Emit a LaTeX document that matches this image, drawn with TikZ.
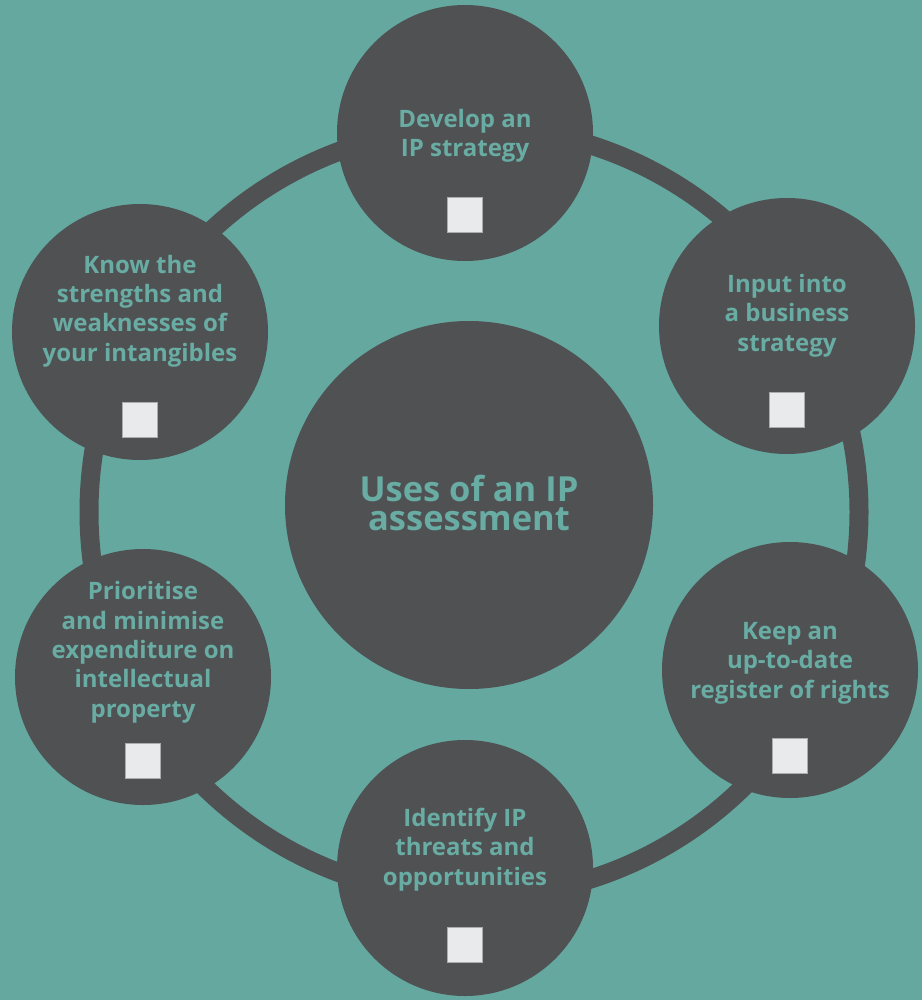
\documentclass[tikz,border=0pt]{standalone}
\usepackage{fontspec}
\setmainfont{Open Sans}
\definecolor{bgteal}{RGB}{100,168,160}
\definecolor{discgray}{RGB}{80,81,83}
\definecolor{txtteal}{RGB}{104,172,163}
\definecolor{sqfill}{RGB}{233,234,236}
\definecolor{sqline}{RGB}{172,172,175}
\begin{document}
\begin{tikzpicture}[x=1pt,y=-1pt,
  ringline/.style={draw=discgray, line width=19pt},
  disc/.style={circle, fill=discgray, draw=none, minimum size=256pt, inner sep=0pt},
  hub/.style={circle, fill=discgray, draw=none, minimum size=368pt, inner sep=0pt},
  lbl/.style={text=txtteal, font=\bfseries\fontsize{24}{29.3}\selectfont, align=center, anchor=base, inner sep=0pt},
  hublbl/.style={text=txtteal, font=\bfseries\fontsize{34.5}{28.5}\selectfont, align=center, anchor=base, inner sep=0pt},
  tick/.style={draw=sqline, line width=1.2pt, fill=sqfill, minimum size=35pt, inner sep=0pt}]
\fill[bgteal] (0,0) rectangle (922,1000);
\useasboundingbox (0,0) rectangle (922,1000);
\coordinate (rc) at (474,512);
\draw[ringline] (rc) circle[radius=385pt];
\node[hub] (hub) at (469,505) {};
\node[hublbl] (hubtext) at (469,530) {Uses of an IP\\assessment};
\node[disc] (d1) at (465,133) {};
\node[disc] (d2) at (787,326) {};
\node[disc] (d3) at (790,670) {};
\node[disc] (d4) at (465,868) {};
\node[disc] (d5) at (143,677) {};
\node[disc] (d6) at (140,332) {};
% anchor=base is the baseline of the last line
\node[lbl] (t1) at (465,157) {Develop an\\IP strategy};
\node[lbl] (t2) at (787,351) {Input into\\a business\\strategy};
\node[lbl] (t3) at (790,698) {Keep an\\up-to-date\\register of rights};
\node[lbl] (t4) at (465,885) {Identify IP\\threats and\\opportunities};
\node[lbl] (t5) at (143,717) {Prioritise\\and minimise\\expenditure on\\intellectual\\property};
\node[lbl] (t6) at (140,361) {Know the\\strengths and\\weaknesses of\\your intangibles};
\node[tick] (s1) at (465,215) {};
\node[tick] (s2) at (787,410) {};
\node[tick] (s3) at (790,756) {};
\node[tick] (s4) at (465,945) {};
\node[tick] (s5) at (143,761) {};
\node[tick] (s6) at (140,420) {};
\end{tikzpicture}
\end{document}
